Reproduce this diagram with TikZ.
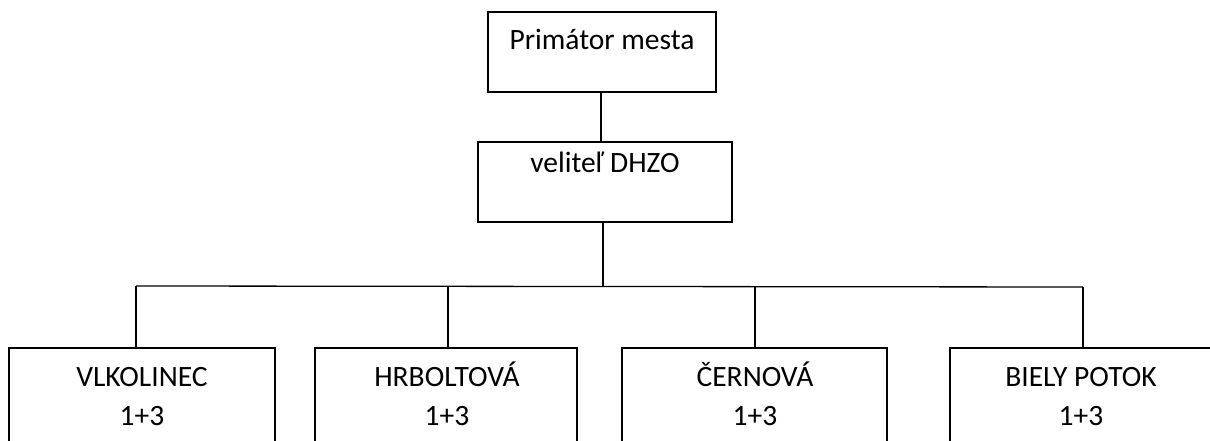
\documentclass[tikz,border=0pt]{standalone}
\usepackage{fontspec}
\setmainfont{Carlito}
\begin{document}
\begin{tikzpicture}[x=1pt,y=-1pt,
  box/.style={draw, line width=1.8pt, rectangle, inner sep=0pt, outer sep=0pt, anchor=north west},
  lbl/.style={font=\fontsize{29.5}{35}\selectfont, inner sep=0pt, anchor=base},
  conn/.style={line width=1.3pt}]
\useasboundingbox (0,0) rectangle (1210,441);
% boxes
\node[box, minimum width=228pt, minimum height=80pt] (prim) at (488,12) {};
\node[box, minimum width=254pt, minimum height=80pt] (vel) at (478,142) {};
\node[box, minimum width=266pt, minimum height=130pt] (b1) at (9,348) {};
\node[box, minimum width=262pt, minimum height=130pt] (b2) at (315,348) {};
\node[box, minimum width=265pt, minimum height=130pt] (b3) at (622,348) {};
\node[box, minimum width=262pt, minimum height=130pt] (b4) at (950,348) {};
% texts
\node[lbl] (primt) at (602,50) {Primátor mesta};
\node[lbl] (velt) at (605,172) {veliteľ DHZO};
\node[lbl] (b1a) at (142,386) {VLKOLINEC};
\node[lbl] (b1b) at (142,425) {1+3};
\node[lbl] (b2a) at (447,386) {HRBOLTOVÁ};
\node[lbl] (b2b) at (447,425) {1+3};
\node[lbl] (b3a) at (755,386) {ČERNOVÁ};
\node[lbl] (b3b) at (755,425) {1+3};
\node[lbl] (b4a) at (1081,386) {BIELY POTOK};
\node[lbl] (b4b) at (1081,425) {1+3};
% connectors
\coordinate (hub) at (603,286);
\coordinate (hl) at (136,286);
\coordinate (hr) at (1083,287);
\coordinate (d2) at (448,286);
\coordinate (d3) at (755,287);
\draw[conn] (601,0 |- prim.south) -- (601,0 |- vel.north);
\draw[conn] (hub |- vel.south) -- (hub);
\draw[conn] (hl) -- (hr);
\draw[conn] (hl) -- (hl |- b1.north);
\draw[conn] (d2) -- (d2 |- b2.north);
\draw[conn] (d3) -- (d3 |- b3.north);
\draw[conn] (hr) -- (hr |- b4.north);
\end{tikzpicture}
\end{document}
